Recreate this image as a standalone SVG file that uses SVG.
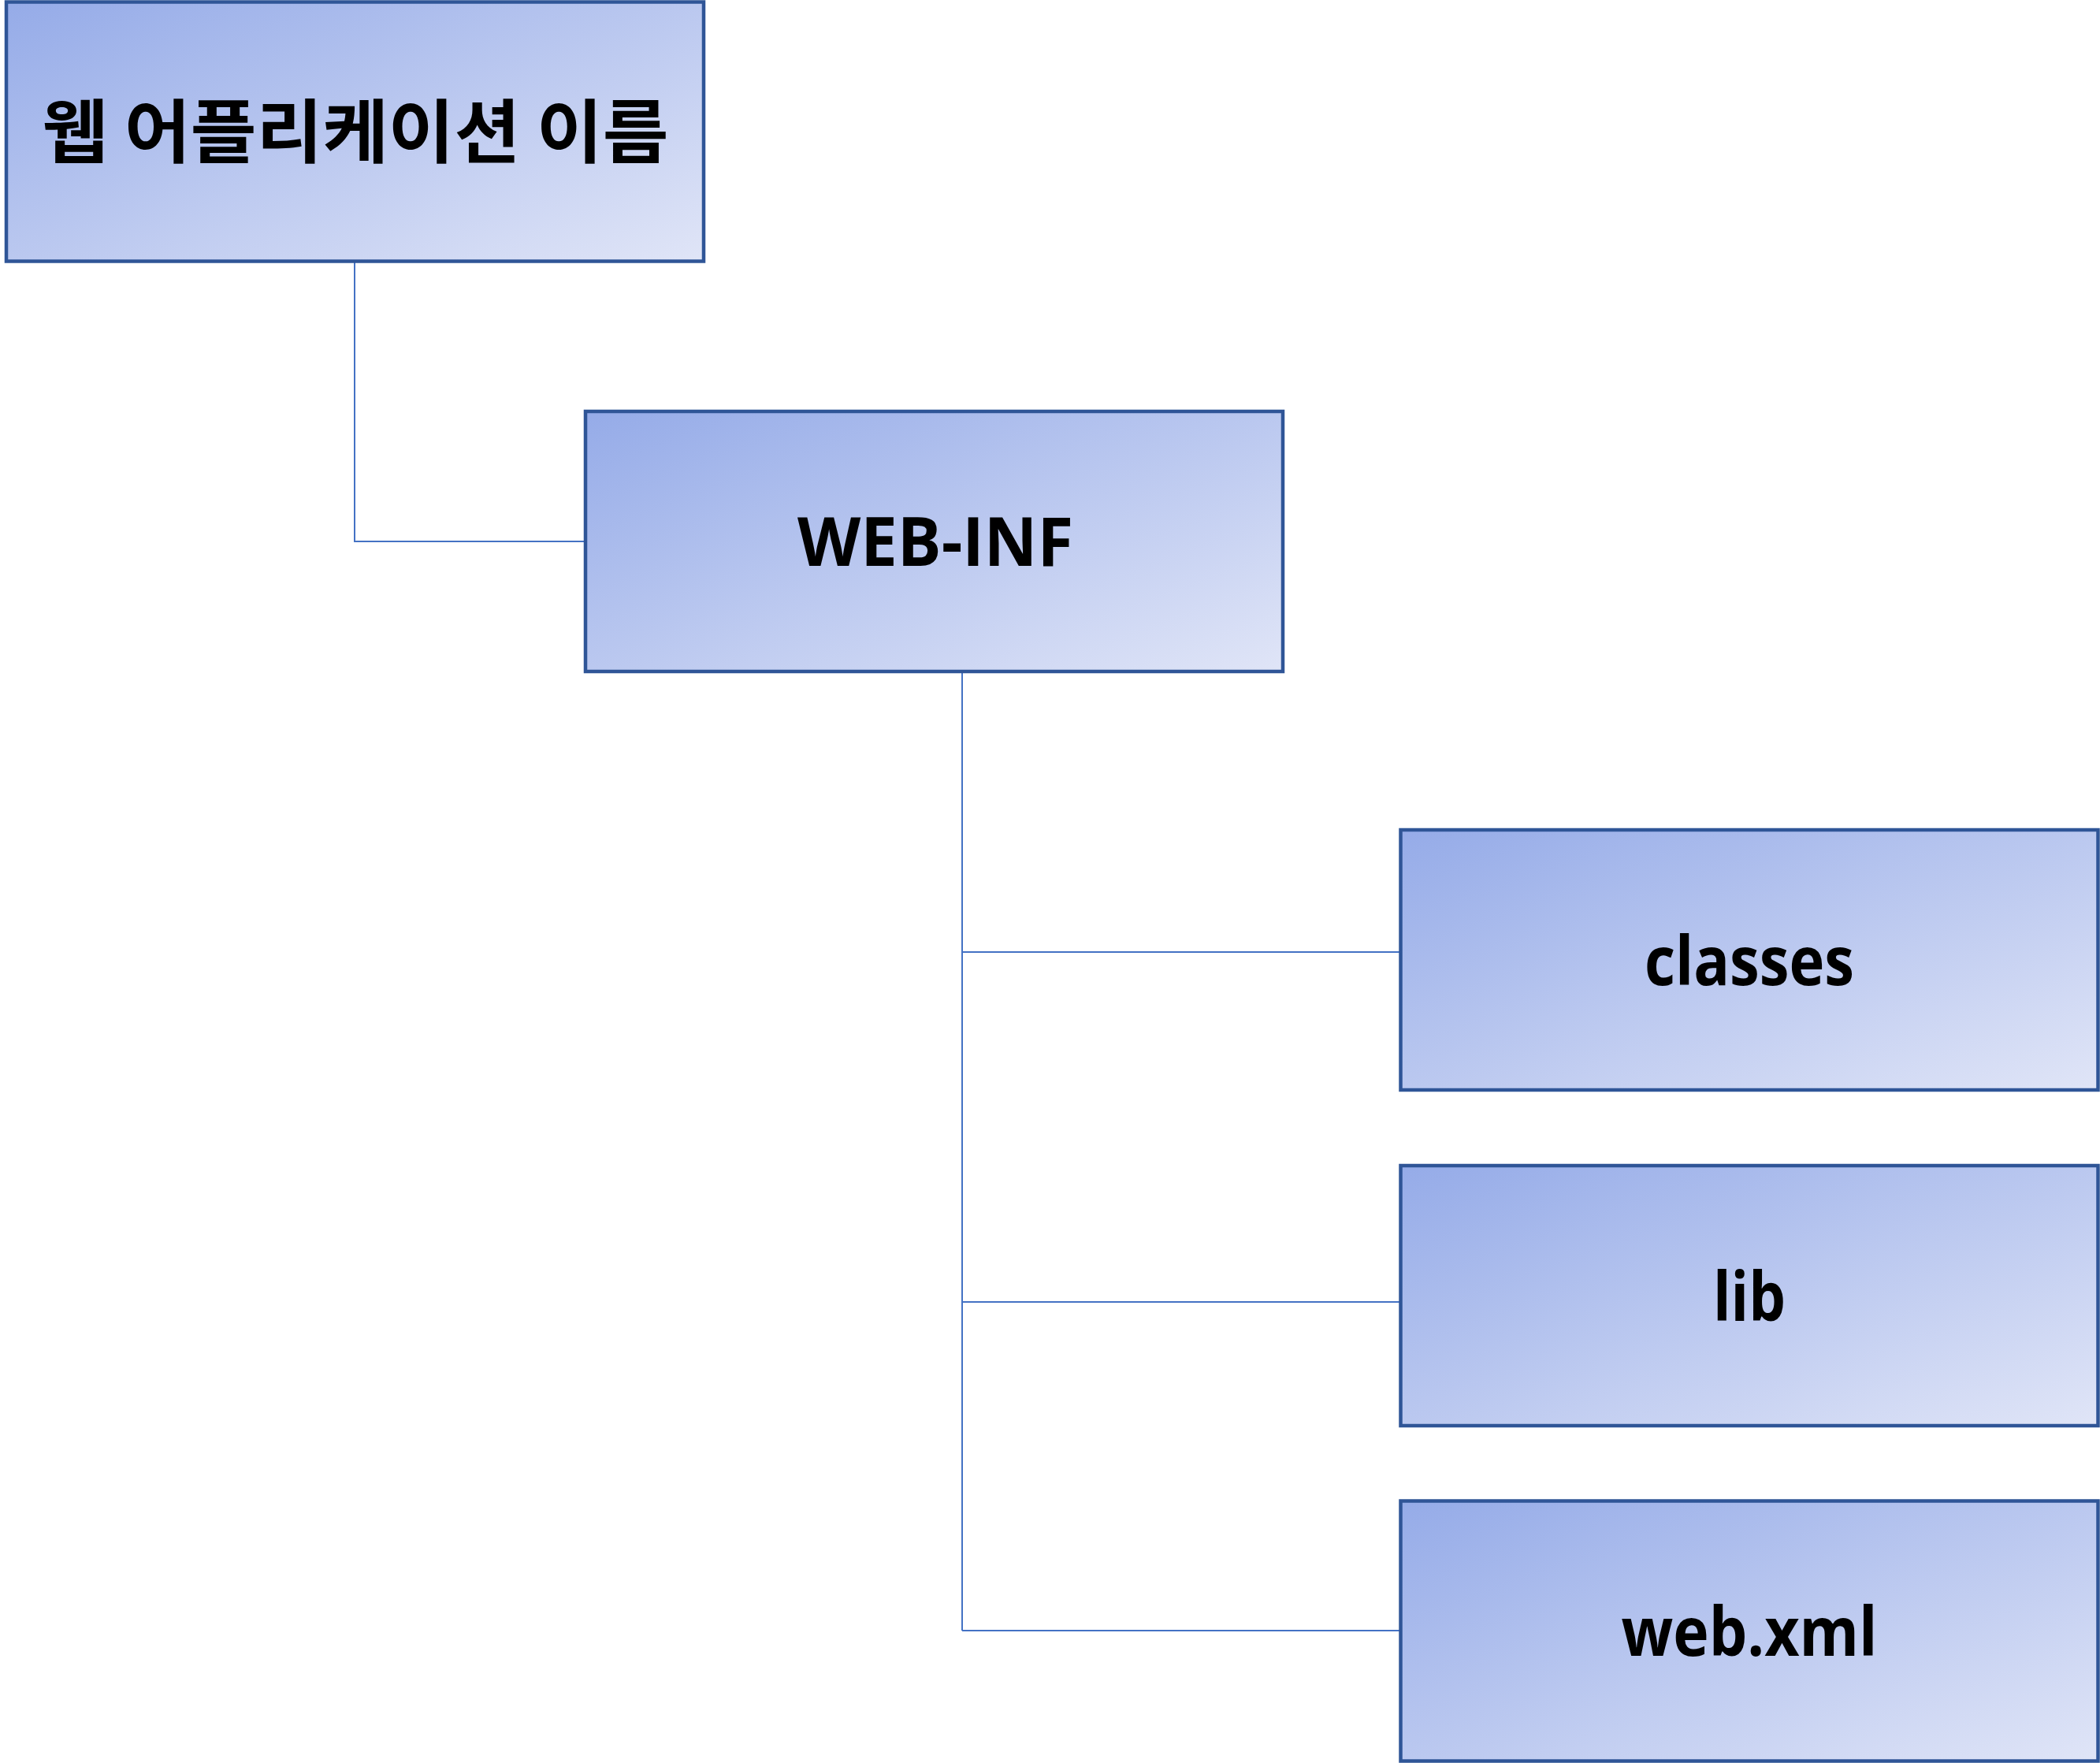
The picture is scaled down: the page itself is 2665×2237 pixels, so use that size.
<svg xmlns="http://www.w3.org/2000/svg" width="2665" height="2237" viewBox="0 0 2665 2237">
<style>
.box{fill:url(#g);stroke:#2F5597;stroke-width:4.5}
.lbl{font-family:"Open Sans","Noto Sans","Noto Sans CJK KR",sans-serif;font-weight:700;font-size:86px;fill:#000;text-anchor:middle}
.kr{font-family:"Noto Sans CJK KR",sans-serif;font-weight:700;font-size:88px;fill:#000;text-anchor:middle}
.conn{fill:none;stroke:#4472C4;stroke-width:2}
</style>
<defs>
<linearGradient id="g" x1="0" y1="0" x2="1" y2="1">
<stop offset="0" stop-color="#95ABE8"/>
<stop offset="1" stop-color="#E0E5F7"/>
</linearGradient>
</defs>
<rect width="2665" height="2237" fill="#fff"/>
<g id="connectors">
<path class="conn" d="M450,333 V687 H743"/>
<path class="conn" d="M1221,854 V2069"/>
<path class="conn" d="M1221,1208 H1777"/>
<path class="conn" d="M1221,1652 H1777"/>
<path class="conn" d="M1221,2069 H1777"/>
</g>
<g id="node-webapp">
<rect class="box" x="8" y="2.5" width="885" height="329"/>
<text class="kr" x="451" y="199" textLength="795" lengthAdjust="spacingAndGlyphs">웹 어플리케이션 이름</text>
</g>
<g id="node-webinf">
<rect class="box" x="743" y="522" width="885" height="330"/>
<text class="lbl" x="1187" y="718" textLength="350" lengthAdjust="spacingAndGlyphs">WEB-INF</text>
</g>
<g id="node-classes">
<rect class="box" x="1777.5" y="1053" width="885" height="330"/>
<text class="lbl" x="2220" y="1250" textLength="266" lengthAdjust="spacingAndGlyphs">classes</text>
</g>
<g id="node-lib">
<rect class="box" x="1777.5" y="1479" width="885" height="330"/>
<text class="lbl" x="2220" y="1676" textLength="92" lengthAdjust="spacingAndGlyphs">lib</text>
</g>
<g id="node-webxml">
<rect class="box" x="1777.5" y="1904.5" width="885" height="330"/>
<text class="lbl" x="2220" y="2101" textLength="325" lengthAdjust="spacingAndGlyphs">web.xml</text>
</g>
</svg>
